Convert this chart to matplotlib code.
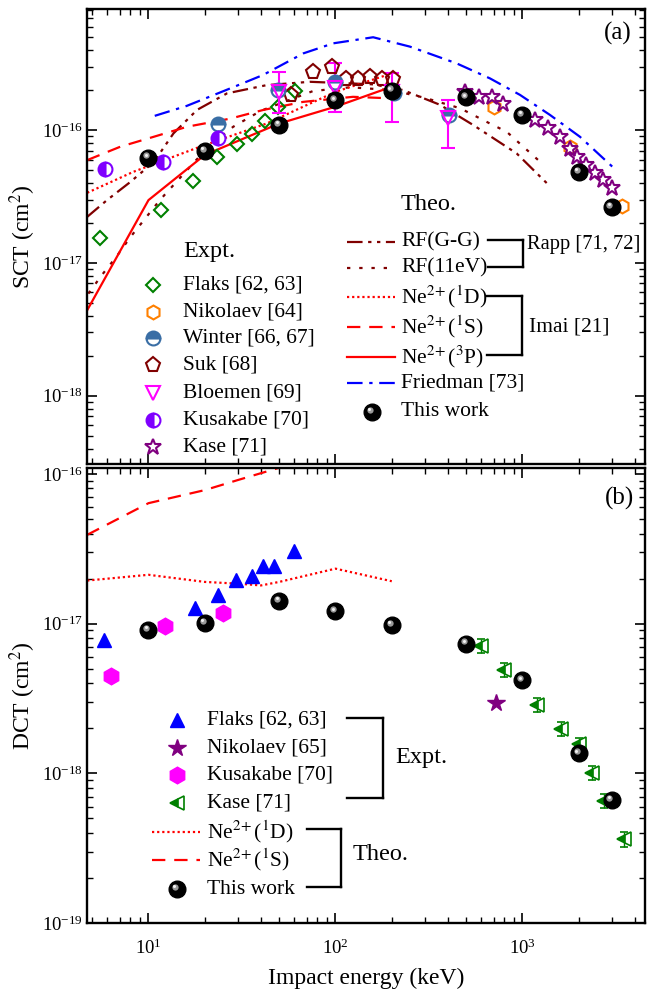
import numpy as np
import matplotlib
matplotlib.use("Agg")
import matplotlib.pyplot as plt
from matplotlib.lines import Line2D
from matplotlib import transforms
from matplotlib.ticker import LogLocator, NullFormatter

plt.rcParams['font.family'] = ['Liberation Serif', 'DejaVu Serif']
plt.rcParams['mathtext.fontset'] = 'stix'

# ---------------- panel (a): SCT ----------------
flaks_e = [5.5, 11.7, 17.4, 23.2, 29.8, 35.9, 42, 49.4, 60.6]
flaks_s = [1.53e-17, 2.5e-17, 4.13e-17, 6.23e-17, 7.8e-17, 9.33e-17, 1.17e-16, 1.48e-16, 1.98e-16]

nikol_e = [700, 1800, 3400]
nikol_s = [1.50e-16, 7.5e-17, 2.69e-17]

winter_e = [23.6, 49, 100, 205, 405]
winter_s = [1.12e-16, 2.0e-16, 2.31e-16, 1.89e-16, 1.30e-16]

suk_e = [57.5, 75.5, 96, 114, 132, 153, 177, 202]
suk_s = [1.84e-16, 2.75e-16, 2.97e-16, 2.41e-16, 2.41e-16, 2.49e-16, 2.41e-16, 2.41e-16]

bloem_e = [50, 100, 200, 400]
bloem_s = [1.95e-16, 2.07e-16, 1.93e-16, 1.23e-16]
bloem_lo = [1.35e-16, 1.36e-16, 1.16e-16, 7.3e-17]
bloem_hi = [2.75e-16, 3.18e-16, 2.67e-16, 1.68e-16]

kusa_e = [5.85, 12, 23.6]
kusa_s = [5.06e-17, 5.77e-17, 8.75e-17]

kase_e = [493, 587, 684, 783, 1167, 1375, 1585, 1800, 1950, 2188, 2443, 2706, 2998]
kase_s = [1.94e-16, 1.78e-16, 1.76e-16, 1.57e-16, 1.19e-16, 1.03e-16, 8.8e-17, 7.2e-17,
          6.3e-17, 5.44e-17, 4.77e-17, 4.2e-17, 3.64e-17]

rfgg_e = [4.7, 6.0, 8.0, 10.7, 13.6, 18.2, 26.3, 42.8, 73, 159, 230, 362, 546, 931, 1380]
rfgg_s = [2.22e-17, 2.97e-17, 4.07e-17, 5.77e-17, 9.44e-17, 1.42e-16, 1.89e-16, 2.18e-16,
          2.31e-16, 2.21e-16, 2.0e-16, 1.55e-16, 1.09e-16, 6.67e-17, 3.86e-17]

rf11_e = [4.77, 5.62, 6.76, 7.96, 11.5, 20.5, 28.4, 40, 76, 120, 200, 300, 464, 670, 824, 1265]
rf11_s = [5.87e-18, 8.07e-18, 1.12e-17, 1.55e-17, 2.97e-17, 7.28e-17, 1.06e-16, 1.4e-16,
          1.97e-16, 2.1e-16, 2.0e-16, 1.75e-16, 1.46e-16, 1.12e-16, 9.7e-17, 5.64e-17]

imai1d_e = [4.7, 8.3, 18.8, 42.8, 100, 200]
imai1d_s = [3.37e-17, 4.85e-17, 7.48e-17, 1.12e-16, 1.94e-16, 2.67e-16]

imai1s_e = [4.7, 7.06, 10.66, 16.1, 27.4, 41.3, 67, 124, 204]
imai1s_s = [5.94e-17, 7.49e-17, 8.9e-17, 1.06e-16, 1.22e-16, 1.42e-16, 1.63e-16, 1.78e-16, 1.73e-16]

imai3p_e = [4.7, 10, 20, 50, 100, 200]
imai3p_s = [4.4e-18, 2.97e-17, 6.5e-17, 1.12e-16, 1.5e-16, 2.12e-16]

fried_e = [10.8, 16, 28.3, 41, 67.3, 97.3, 159, 250, 444, 670, 970, 1403, 2030, 3033]
fried_s = [1.28e-16, 1.52e-16, 2.1e-16, 2.6e-16, 3.78e-16, 4.5e-16, 5.0e-16, 4.25e-16,
           3.18e-16, 2.45e-16, 1.84e-16, 1.3e-16, 8.9e-17, 5.28e-17]

work_e = [10, 20, 50, 100, 200, 500, 1000, 2000, 3000]
work_sct = [6.2e-17, 6.95e-17, 1.09e-16, 1.68e-16, 1.98e-16, 1.76e-16, 1.30e-16, 4.83e-17, 2.64e-17]

# ---------------- panel (b): DCT ----------------
flaks_d_e = [5.8, 17.7, 23.6, 29.2, 35.6, 40.8, 47.1, 60]
flaks_d_s = [7.8e-18, 1.27e-17, 1.55e-17, 1.95e-17, 2.07e-17, 2.44e-17, 2.44e-17, 3.04e-17]

nikol_d_e = [720]
nikol_d_s = [2.96e-18]

kusa_d_e = [6.3, 12.3, 25]
kusa_d_s = [4.45e-18, 9.7e-18, 1.18e-17]

kase_d_e = [600, 800, 1200, 1600, 2000, 2350, 2740, 3500]
kase_d_s = [7.13e-18, 4.93e-18, 2.88e-18, 1.99e-18, 1.56e-18, 1.01e-18, 6.53e-19, 3.63e-19]
kase_d_err = [0.8e-18, 0.55e-18, 0.32e-18, 0.22e-18, 0.17e-18, 0.11e-18, 0.07e-18, 0.04e-18]

imai1d_d_e = [4.7, 10, 20, 30, 40, 50, 100, 200]
imai1d_d_s = [1.94e-17, 2.12e-17, 1.9e-17, 1.85e-17, 1.8e-17, 1.9e-17, 2.33e-17, 1.92e-17]

imai1s_d_e = [4.7, 10, 20, 30, 50, 100]
imai1s_d_s = [3.92e-17, 6.38e-17, 7.8e-17, 9.1e-17, 1.1e-16, 1.5e-16]

work_dct = [9.1e-18, 1.01e-17, 1.42e-17, 1.21e-17, 0.98e-17, 7.36e-18, 4.19e-18, 1.36e-18, 6.64e-19]

W, H = 649, 994
fig = plt.figure(figsize=(W / 100, H / 100), dpi=100)
ax1 = fig.add_axes([87 / W, 1 - 464 / H, 558 / W, 455 / H])
ax2 = fig.add_axes([87 / W, 1 - 923 / H, 558 / W, 455 / H])

DRED = '#800000'
RED = '#ff0000'
GREEN = '#008000'
ORANGE = '#ff8000'
WBLUE = '#3a6ea5'
MAG = '#ff00ff'
VIOL = '#7f00ff'
PURP = '#800080'
BLUE = '#0000ff'


def spheres(ax, x, y, ms=12):
    ax.plot(x, y, 'o', color='black', ms=ms, zorder=10)
    off = transforms.offset_copy(ax.transData, fig=fig, x=-1.6, y=1.6, units='points')
    ax.plot(x, y, 'o', color='#9a9a9a', mec='none', ms=ms * 0.38, transform=off, zorder=11)
    off2 = transforms.offset_copy(ax.transData, fig=fig, x=-1.9, y=1.9, units='points')
    ax.plot(x, y, 'o', color='#f2f2f2', mec='none', ms=ms * 0.18, transform=off2, zorder=12)


lw = 1.6
# theory lines (a)
ax1.plot(rfgg_e, rfgg_s, color=DRED, lw=lw, dashes=(7, 2.5, 1.5, 2.5, 1.5, 2.5))
ax1.plot(rf11_e, rf11_s, color=DRED, lw=lw, dashes=(1.5, 4))
ax1.plot(imai1d_e, imai1d_s, color=RED, lw=lw, dashes=(1, 1.3))
ax1.plot(imai1s_e, imai1s_s, color=RED, lw=lw, dashes=(6, 4))
ax1.plot(imai3p_e, imai3p_s, color=RED, lw=lw)
ax1.plot(fried_e, fried_s, color=BLUE, lw=lw, dashes=(7, 3, 1.5, 3))

# experiments (a)
ax1.plot(flaks_e, flaks_s, 'D', ms=7, mfc='none', mec=GREEN, mew=1.5)
ax1.plot(nikol_e, nikol_s, 'h', ms=10, mfc='none', mec=ORANGE, mew=1.5)
ax1.errorbar(bloem_e, bloem_s,
             yerr=[np.array(bloem_s) - np.array(bloem_lo), np.array(bloem_hi) - np.array(bloem_s)],
             fmt='v', ms=10, mfc='none', mec=MAG, mew=1.5, ecolor=MAG, elinewidth=1.5,
             capsize=5, capthick=1.5)
ax1.plot(suk_e, suk_s, 'p', ms=11, mfc='none', mec=DRED, mew=1.5)
ax1.plot(winter_e, winter_s, 'o', ms=10, fillstyle='top', mfc=WBLUE, mfcalt='white', mec=WBLUE, mew=1.5)
ax1.plot(kusa_e, kusa_s, 'o', ms=10, fillstyle='left', mfc=VIOL, mfcalt='white', mec=VIOL, mew=1.5)
ax1.plot(kase_e, kase_s, '*', ms=12, mfc='none', mec=PURP, mew=1.5)
spheres(ax1, work_e, work_sct)

# (b)
ax2.plot(imai1d_d_e, imai1d_d_s, color=RED, lw=lw, dashes=(1, 1.3))
ax2.plot(imai1s_d_e, imai1s_d_s, color=RED, lw=lw, dashes=(6, 4))
ax2.plot(flaks_d_e, flaks_d_s, '^', ms=10, color=BLUE)
ax2.plot(nikol_d_e, nikol_d_s, '*', ms=13, color=PURP)
ax2.plot(kusa_d_e, kusa_d_s, 'h', ms=12, color=MAG)
ax2.errorbar(kase_d_e, kase_d_s, yerr=kase_d_err, fmt='<', ms=10, fillstyle='left', mfc=GREEN,
             mfcalt='white', mec=GREEN, mew=1.2, ecolor=GREEN, elinewidth=1, capsize=3)
spheres(ax2, work_e, work_dct)

for ax in (ax1, ax2):
    ax.set_xscale('log')
    ax.set_yscale('log')
    ax.set_xlim(4.69, 4520)
    ax.tick_params(which='both', direction='in', top=True, right=True, labelsize=13.5)
    ax.tick_params(axis='x', which='both', pad=11)
    ax.tick_params(axis='y', which='both', pad=3)
    ax.tick_params(which='major', length=7, width=1.2)
    ax.tick_params(which='minor', length=4, width=1)
    ax.xaxis.set_minor_locator(LogLocator(subs=np.arange(2, 10)))
    ax.yaxis.set_minor_locator(LogLocator(subs=np.arange(2, 10)))
    ax.xaxis.set_minor_formatter(NullFormatter())
    ax.yaxis.set_minor_formatter(NullFormatter())
    for s in ax.spines.values():
        s.set_linewidth(1.7)

ax1.set_ylim(3.06e-19, 8.16e-16)
ax2.set_ylim(1e-19, 1.096e-16)
ax1.set_yticks([1e-18, 1e-17, 1e-16])
ax2.set_yticks([1e-19, 1e-18, 1e-17, 1e-16])
ax1.tick_params(labelbottom=False)

ax1.set_ylabel('SCT (cm$^2$)', fontsize=17)
ax2.set_ylabel('DCT (cm$^2$)', fontsize=17)
ax1.yaxis.set_label_coords(-0.088, 0.5)
ax2.yaxis.set_label_coords(-0.088, 0.5)
ax2.set_xlabel('Impact energy (keV)', fontsize=17)
ax2.xaxis.set_label_coords(0.5, -0.098)

fig.text(618 / W, 1 - 33 / H, '(a)', fontsize=18, ha='center', va='center')
fig.text(619 / W, 1 - 498 / H, '(b)', fontsize=18, ha='center', va='center')


# ---------- legends drawn by hand ----------
def fp(x, y):
    return x / W, 1 - y / H


def hline(x0, x1, y, **kw):
    (a, b), (c, _) = fp(x0, y), fp(x1, y)
    fig.add_artist(Line2D([a, c], [b, b], transform=fig.transFigure, **kw))


def mark(x, y, **kw):
    a, b = fp(x, y)
    fig.add_artist(Line2D([a], [b], transform=fig.transFigure, ls='none', **kw))


def label(x, y, s, size=15.5, **kw):
    a, b = fp(x, y)
    fig.text(a, b, s, fontsize=size, va='center', ha='left', **kw)


def sphere_key(x, y):
    mark(x, y, marker='o', color='black', ms=12)
    mark(x - 2.2, y - 2.2, marker='o', color='#9a9a9a', mec='none', ms=4.5)
    mark(x - 2.6, y - 2.6, marker='o', color='#f2f2f2', mec='none', ms=2.2)


def bracket(x0, y0, y1, xb):
    kw = dict(color='black', lw=1.7)
    hline(x0, xb, y0, **kw)
    hline(x0, xb, y1, **kw)
    a, b = fp(xb, y0)
    _, d = fp(xb, y1)
    fig.add_artist(Line2D([a, a], [b, d], transform=fig.transFigure, **kw))


NE = 'Ne$^{2\\!+}$'

# (a) experiments
label(183, 252, 'Expt.', size=17.5)
rows = [285, 311.7, 338.3, 365, 393.3, 420, 446.7]
mx, tx = 153, 183
mark(mx, rows[0], marker='D', ms=7, mfc='none', mec=GREEN, mew=1.5)
mark(mx, rows[1], marker='h', ms=10, mfc='none', mec=ORANGE, mew=1.5)
mark(mx, rows[2], marker='o', ms=10, fillstyle='top', mfc=WBLUE, mfcalt='white', mec=WBLUE, mew=1.5)
mark(mx, rows[3], marker='p', ms=11, mfc='none', mec=DRED, mew=1.5)
mark(mx, rows[4], marker='v', ms=10, mfc='none', mec=MAG, mew=1.5)
mark(mx, rows[5], marker='o', ms=10, fillstyle='left', mfc=VIOL, mfcalt='white', mec=VIOL, mew=1.5)
mark(mx, rows[6], marker='*', ms=12, mfc='none', mec=PURP, mew=1.5)
for y, s in zip(rows, ['Flaks [62, 63]', 'Nikolaev [64]', 'Winter [66, 67]', 'Suk [68]',
                       'Bloemen [69]', 'Kusakabe [70]', 'Kase [71]']):
    label(tx, y, s)

# (a) theory
label(401, 204, 'Theo.', size=17.5)
trows = [241.7, 268.3, 296.7, 326.7, 356.7, 383.3, 411.7]
hx0, hx1, ttx = 347, 395, 401
hline(hx0, hx1, trows[0], color=DRED, lw=lw, dashes=(7, 2.5, 1.5, 2.5, 1.5, 2.5))
hline(hx0, hx1, trows[1], color=DRED, lw=lw, dashes=(1.5, 4))
hline(hx0, hx1, trows[2], color=RED, lw=lw, dashes=(1, 1.3))
hline(hx0, hx1, trows[3], color=RED, lw=lw, dashes=(6, 4))
hline(hx0, hx1, trows[4], color=RED, lw=lw)
hline(hx0, hx1, trows[5], color=BLUE, lw=lw, dashes=(7, 3, 1.5, 3))
sphere_key(372, trows[6])
for y, s in zip(trows, ['RF(G-G)', 'RF(11eV)', NE + '($^1$D)', NE + '($^1$S)',
                        NE + '($^3$P)', 'Friedman [73]', 'This work']):
    label(ttx, y, s)
bracket(488, 240, 267, 522.5)
label(527, 245, 'Rapp [71, 72]', size=14.8)
bracket(486.5, 295.7, 355, 521.7)
label(529, 326.7, 'Imai [21]')

# (b) legend
brows = [720, 748.3, 775, 802.7, 831.7, 860, 889]
bmx, btx = 177, 207
mark(bmx, brows[0], marker='^', ms=10, color=BLUE)
mark(bmx, brows[1], marker='*', ms=13, color=PURP)
mark(bmx, brows[2], marker='h', ms=12, color=MAG)
mark(bmx, brows[3], marker='<', ms=10, fillstyle='left', mfc=GREEN, mfcalt='white', mec=GREEN, mew=1.2)
hline(152, 200, brows[4], color=RED, lw=lw, dashes=(1, 1.3))
hline(152, 200, brows[5], color=RED, lw=lw, dashes=(6, 4))
sphere_key(bmx, brows[6])
for y, s in zip(brows, ['Flaks [62, 63]', 'Nikolaev [65]', 'Kusakabe [70]', 'Kase [71]',
                        NE + '($^1$D)', NE + '($^1$S)', 'This work']):
    label(btx, y, s)
bracket(346.7, 718.3, 798.3, 382.7)
label(395, 757, 'Expt.', size=17.5)
bracket(306.7, 828.5, 886.7, 341)
label(353, 854, 'Theo.', size=17.5)

fig.savefig('out.png', dpi=100)
